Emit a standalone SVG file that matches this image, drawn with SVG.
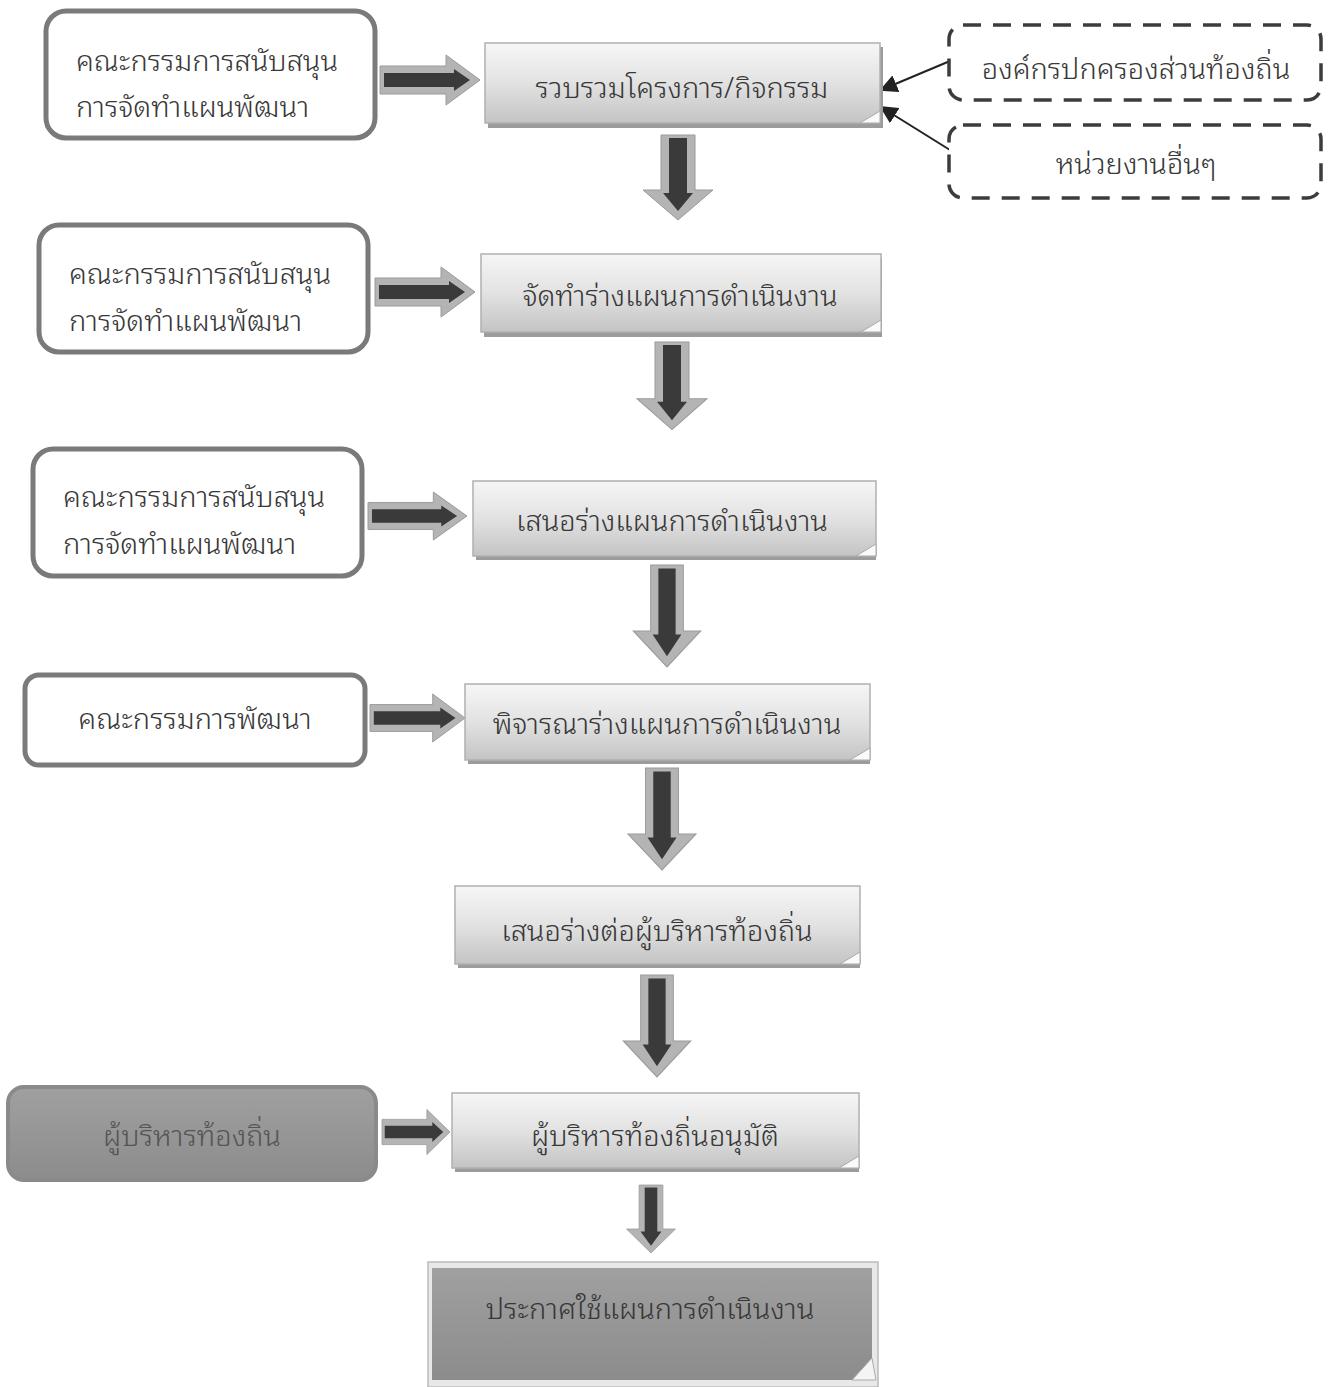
<svg xmlns="http://www.w3.org/2000/svg" width="1335" height="1387" viewBox="0 0 1335 1387">
<defs>
<linearGradient id="gBox" x1="0" y1="0" x2="0" y2="1">
<stop offset="0" stop-color="#f6f6f6"/>
<stop offset="0.5" stop-color="#e2e2e2"/>
<stop offset="1" stop-color="#c4c4c4"/>
</linearGradient>
<linearGradient id="gDark" x1="0" y1="0" x2="0" y2="1">
<stop offset="0" stop-color="#a0a0a0"/>
<stop offset="1" stop-color="#8c8c8c"/>
</linearGradient>
<g id="downArrow">
<path d="M-17,0 H17 V55 H35 L0,85 L-35,55 H-17 Z" fill="#b4b4b4" stroke="#9a9a9a" stroke-width="1"/>
<path d="M-9,3 H9 V58 H15 L0,76 L-15,58 H-9 Z" fill="#3a3a3a"/>
</g>
<g id="rightArrow">
<path d="M0,-14 H66 V-25 L100,0 L66,25 V14 H0 Z" fill="#b4b4b4" stroke="#9a9a9a" stroke-width="1"/>
<path d="M4,-7 H74 V-11 L90,0 L74,11 V7 H4 Z" fill="#3a3a3a"/>
</g>
<marker id="thin" viewBox="0 0 10 10" refX="9" refY="5" markerWidth="9" markerHeight="9" orient="auto">
<path d="M0,0 L10,5 L0,10 Z" fill="#222"/>
</marker>
</defs>
<style>
.t{font-family:"Noto Sans Thai Looped","Noto Serif Thai","Noto Sans Thai","Noto Sans","DejaVu Sans","Liberation Sans",sans-serif;font-size:29px;font-weight:300;fill:#383838}
.c{text-anchor:middle}
.lbox{fill:#fff;stroke:#7a7a7a;stroke-width:5}
.pbox{fill:url(#gBox);stroke:#b0b0b0;stroke-width:1.5}
.shadow{fill:#9c9c9c}
.curl{fill:#fafafa;stroke:#aaa;stroke-width:1}
.dash{fill:#fff;stroke:#3c3c3c;stroke-width:3.5;stroke-dasharray:18 12}
</style>
<rect width="1335" height="1387" fill="#fff"/>

<g id="connectors">
<use href="#rightArrow" transform="translate(380,80)"/>
<use href="#rightArrow" transform="translate(375,292)"/>
<use href="#rightArrow" transform="translate(368,516) scale(0.99,0.96)"/>
<use href="#rightArrow" transform="translate(370,718) scale(0.95,0.96)"/>
<use href="#rightArrow" transform="translate(382,1132) scale(0.68,0.9)"/>
<use href="#downArrow" transform="translate(678,135)"/>
<use href="#downArrow" transform="translate(672,342) scale(1,1.03)"/>
<use href="#downArrow" transform="translate(667,565) scale(0.96,1.2)"/>
<use href="#downArrow" transform="translate(662,768) scale(0.97,1.2)"/>
<use href="#downArrow" transform="translate(657,975) scale(0.96,1.2)"/>
<use href="#downArrow" transform="translate(651,1185) scale(0.7,0.8)"/>
<line x1="950" y1="61" x2="881" y2="90" stroke="#222" stroke-width="2" marker-end="url(#thin)"/>
<line x1="950" y1="150" x2="881" y2="107" stroke="#222" stroke-width="2" marker-end="url(#thin)"/>
</g>

<g id="n-support1">
<rect class="lbox" x="46" y="11" width="329" height="127" rx="20"/>
<text class="t" x="76" y="71">คณะกรรมการสนับสนุน</text>
<text class="t" x="76" y="117">การจัดทำแผนพัฒนา</text>
</g>
<g id="n-support2">
<rect class="lbox" x="39" y="225" width="329" height="127" rx="20"/>
<text class="t" x="69" y="284">คณะกรรมการสนับสนุน</text>
<text class="t" x="69" y="331">การจัดทำแผนพัฒนา</text>
</g>
<g id="n-support3">
<rect class="lbox" x="33" y="449" width="329" height="127" rx="20"/>
<text class="t" x="63" y="507">คณะกรรมการสนับสนุน</text>
<text class="t" x="63" y="554">การจัดทำแผนพัฒนา</text>
</g>
<g id="n-committee">
<rect class="lbox" x="25" y="675" width="340" height="90" rx="14" stroke="#555"/>
<text class="t c" x="195" y="729">คณะกรรมการพัฒนา</text>
</g>
<g id="n-exec">
<rect x="8" y="1087" width="368" height="93" rx="16" fill="url(#gDark)" stroke="#8a8a8a" stroke-width="4"/>
<text class="t c" x="192" y="1146" style="fill:#555">ผู้บริหารท้องถิ่น</text>
</g>

<g id="n-collect">
<rect class="shadow" x="488" y="47" width="395" height="81"/>
<rect class="pbox" x="485" y="43" width="395" height="80"/>
<path class="curl" d="M860,123 L880,111 L880,123 Z"/>
<text class="t c" x="682" y="98">รวบรวมโครงการ/กิจกรรม</text>
</g>
<g id="n-draft">
<rect class="shadow" x="484" y="258" width="398" height="79"/>
<rect class="pbox" x="481" y="254" width="400" height="78"/>
<path class="curl" d="M861,332 L881,320 L881,332 Z"/>
<text class="t c" x="680" y="306">จัดทำร่างแผนการดำเนินงาน</text>
</g>
<g id="n-propose">
<rect class="shadow" x="476" y="485" width="400" height="75"/>
<rect class="pbox" x="473" y="481" width="403" height="75"/>
<path class="curl" d="M856,556 L876,544 L876,556 Z"/>
<text class="t c" x="672" y="531">เสนอร่างแผนการดำเนินงาน</text>
</g>
<g id="n-consider">
<rect class="shadow" x="468" y="688" width="402" height="76"/>
<rect class="pbox" x="465" y="684" width="405" height="76"/>
<path class="curl" d="M850,760 L870,748 L870,760 Z"/>
<text class="t c" x="667" y="734">พิจารณาร่างแผนการดำเนินงาน</text>
</g>
<g id="n-toexec">
<rect class="shadow" x="458" y="890" width="402" height="78"/>
<rect class="pbox" x="455" y="886" width="405" height="78"/>
<path class="curl" d="M840,964 L860,952 L860,964 Z"/>
<text class="t c" x="657" y="941">เสนอร่างต่อผู้บริหารท้องถิ่น</text>
</g>
<g id="n-approve">
<rect class="shadow" x="455" y="1097" width="404" height="75"/>
<rect class="pbox" x="452" y="1093" width="407" height="75"/>
<path class="curl" d="M839,1168 L859,1156 L859,1168 Z"/>
<text class="t c" x="655" y="1146">ผู้บริหารท้องถิ่นอนุมัติ</text>
</g>
<g id="n-announce">
<rect x="428" y="1262" width="450" height="125" fill="#e8e8e8" stroke="#bbb" stroke-width="1.5"/>
<rect x="432" y="1268" width="440" height="112" fill="url(#gDark)"/>
<path d="M852,1380 L872,1358 L876,1380 Z" fill="#f4f4f4" stroke="#aaa" stroke-width="1"/>
<text class="t c" x="650" y="1319">ประกาศใช้แผนการดำเนินงาน</text>
</g>

<g id="n-local">
<rect class="dash" x="949" y="25" width="372" height="75" rx="14"/>
<text class="t c" x="1136" y="79">องค์กรปกครองส่วนท้องถิ่น</text>
</g>
<g id="n-other">
<rect class="dash" x="949" y="125" width="372" height="73" rx="14"/>
<text class="t c" x="1136" y="174">หน่วยงานอื่นๆ</text>
</g>
</svg>
